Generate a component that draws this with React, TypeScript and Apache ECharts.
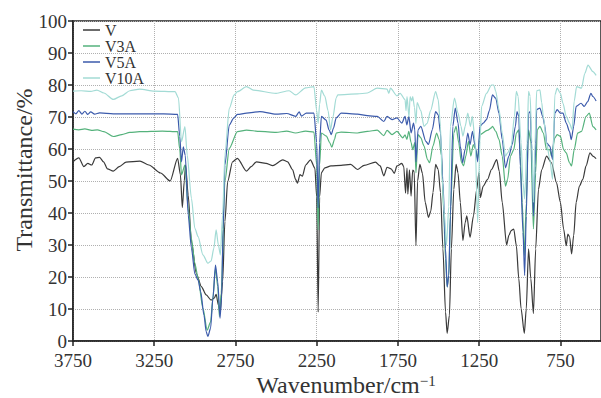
import React, { useEffect, useRef } from "react";
import * as echarts from "echarts";

const seriesNames = ["V", "V3A", "V5A", "V10A"];
const seriesColors = ["#3a3a3a", "#55b27c", "#3b5aab", "#a3dbd5"];
const xTickLabels = [3750, 3250, 2750, 2250, 1750, 1250, 750];

// [wavenumber (cm^-1), transmittance (%)]
const dataV: [number, number][] = [
  [3750, 56.0], [3714, 57.2], [3683, 54.5], [3659, 55.5], [3635, 55.0], [3611, 57.2], [3586, 57.4],
  [3562, 56.0], [3538, 53.8], [3502, 53.1], [3465, 54.5], [3423, 55.9], [3338, 56.2], [3283, 55.0],
  [3211, 52.5], [3152, 50.0], [3106, 57.1], [3089, 52], [3077, 41.7], [3065, 50], [3057, 55.0],
  [3041, 45.6], [3021, 31], [2991, 21.1], [2960, 17], [2930, 14.4], [2900, 12.8], [2879, 13.5],
  [2869, 14.6], [2855, 11.2], [2844, 8.8], [2829, 18.5], [2815, 37.3], [2798, 49.8], [2768, 56],
  [2738, 57.1], [2682, 53.1], [2653, 54.5], [2621, 56], [2562, 55.5], [2520, 54.8], [2459, 56.6],
  [2429, 56], [2398, 53.5], [2380, 50.5], [2368, 49.3], [2353, 52], [2338, 51.5], [2318, 55],
  [2288, 56.6], [2261, 54], [2250, 45], [2241, 9.0], [2232, 45], [2221, 52.6], [2200, 54.1],
  [2162, 54.7], [2100, 54.9], [2041, 55.2], [1999, 53.6], [1958, 54.9], [1888, 55.9], [1859, 54.7],
  [1837, 51.6], [1817, 54.3], [1792, 53.8], [1772, 52.4], [1756, 54.7], [1726, 55.5], [1714, 54.5],
  [1703, 46.2], [1694, 54], [1689, 45.9], [1679, 53.5], [1669, 45.3], [1659, 53.4], [1650, 53],
  [1639, 29.8], [1629, 50], [1615, 55.2], [1599, 52.4], [1582, 43.3], [1562, 38.6], [1548, 40.5],
  [1534, 46.4], [1518, 55.2], [1502, 53.6], [1488, 46.4], [1473, 28.8], [1457, 9.1], [1447, 2.4],
  [1433, 8.1], [1421, 28.8], [1406, 47.4], [1392, 55.2], [1380, 52.5], [1366, 43.3], [1350, 31.4],
  [1336, 37], [1326, 39.1], [1306, 32.4], [1285, 39.1], [1265, 47.4], [1251, 52.6], [1243, 44.8],
  [1225, 48.4], [1198, 50.5], [1174, 53.6], [1142, 56.7], [1126, 53], [1108, 43.3], [1081, 30],
  [1067, 33], [1053, 34.5], [1037, 35], [1021, 29.8], [1006, 19.5], [992, 10.1], [972, 2.4],
  [960, 10], [946, 28.8], [932, 19.5], [916, 8.6], [902, 28.8], [885, 47.4], [865, 53.5],
  [835, 57.8], [805, 55.7], [774, 49.5], [750, 43.3], [730, 35], [714, 29.8], [704, 33.4],
  [693, 32.5], [681, 27.2], [668, 33], [653, 43.3], [633, 48.4], [612, 50.5], [592, 54.7],
  [568, 58.8], [550, 57.8], [530, 57],
];

const dataV3A: [number, number][] = [
  [3750, 66.2], [3714, 66.0], [3677, 66.3], [3635, 65.8], [3600, 66], [3560, 65.4], [3502, 63.9],
  [3450, 64.5], [3400, 65.2], [3340, 65.4], [3200, 65.6], [3106, 65.4], [3093, 60], [3082, 51.9],
  [3061, 55], [3041, 41.4], [3021, 32], [3000, 24.3], [2980, 19.6], [2950, 10.2], [2924, 3.4],
  [2903, 6], [2889, 13.3], [2873, 22.7], [2859, 17], [2849, 7.6], [2838, 15], [2815, 49.8],
  [2788, 60.2], [2738, 65.4], [2682, 65.9], [2600, 65.5], [2500, 65.2], [2435, 65.6], [2380, 65.0],
  [2318, 65.6], [2267, 65.3], [2250, 55], [2241, 34.7], [2232, 55], [2221, 65], [2190, 64],
  [2170, 62], [2157, 60.6], [2140, 63], [2130, 65], [2100, 65.3], [1999, 65], [1938, 65.5],
  [1877, 65.9], [1837, 64.2], [1817, 65.8], [1786, 64.5], [1756, 65.5], [1720, 63.5], [1706, 64.4],
  [1695, 63], [1683, 65.5], [1669, 62], [1659, 59.8], [1646, 62], [1639, 52.6], [1626, 64.5],
  [1609, 63.5], [1590, 61], [1568, 56.7], [1555, 55.7], [1534, 61], [1512, 65], [1497, 63],
  [1482, 58], [1469, 41.2], [1457, 25.7], [1447, 16.9], [1437, 20.5], [1425, 42], [1406, 65],
  [1392, 67.1], [1376, 62], [1360, 56], [1346, 54.7], [1332, 57.8], [1316, 62.4], [1301, 57.8],
  [1286, 61.4], [1271, 59.8], [1259, 57], [1245, 64.5], [1200, 65.8], [1174, 66.6], [1168, 67.1],
  [1148, 65.5], [1128, 63], [1108, 57.8], [1088, 48.4], [1075, 50.5], [1057, 57.8], [1037, 59.8],
  [1021, 65], [1006, 66], [997, 57.8], [985, 43.3], [972, 26.7], [960, 43], [946, 66], [932, 62.4],
  [916, 35], [902, 52.6], [892, 66], [876, 67.1], [855, 65], [835, 59.8], [815, 59.8], [805, 57.8],
  [784, 63.5], [770, 64.5], [750, 64], [730, 59.8], [714, 58.8], [694, 55.7], [681, 54.7],
  [665, 59.8], [644, 65], [620, 65.5], [592, 70.2], [572, 71.2], [550, 67], [530, 66],
];

const dataV5A: [number, number][] = [
  [3750, 71.7], [3732, 71.0], [3714, 72.0], [3695, 70.9], [3677, 71.8], [3659, 70.8], [3641, 71.6],
  [3617, 70.9], [3586, 71.3], [3502, 71.0], [3344, 71.0], [3192, 71.0], [3106, 70.8], [3093, 64],
  [3082, 56.0], [3071, 60.7], [3059, 58], [3041, 39.4], [3021, 29], [3000, 21], [2980, 19],
  [2964, 15.4], [2944, 8.1], [2930, 2.9], [2920, 1.4], [2903, 4], [2889, 13.3], [2873, 23.7],
  [2859, 18.5], [2845, 7.1], [2835, 14], [2826, 35], [2815, 55], [2788, 67.5], [2762, 69.6],
  [2738, 70.8], [2682, 71.2], [2600, 71.7], [2500, 70.9], [2435, 71.1], [2379, 70.2], [2358, 71.6],
  [2344, 70.3], [2314, 71.2], [2267, 71.2], [2250, 62], [2241, 41.6], [2232, 62], [2221, 70.2],
  [2192, 69], [2174, 66], [2160, 64.5], [2147, 66.5], [2130, 69.7], [2100, 71.2], [1999, 70.9],
  [1938, 70.4], [1877, 70.2], [1837, 68.6], [1817, 70.2], [1786, 69.2], [1756, 69.7], [1726, 68.1],
  [1706, 70.2], [1695, 67.5], [1683, 70.2], [1669, 65], [1654, 68.1], [1646, 66], [1639, 56],
  [1626, 66], [1609, 67.1], [1578, 62.4], [1562, 61.4], [1538, 66.1], [1518, 71.7], [1502, 70.7],
  [1488, 65], [1473, 49.5], [1457, 28.8], [1447, 16.9], [1437, 20.5], [1427, 39.1], [1412, 67.1],
  [1397, 72.8], [1380, 68.1], [1366, 60.9], [1352, 55.7], [1336, 60], [1320, 65], [1306, 61.4],
  [1291, 65.5], [1275, 61], [1259, 56], [1245, 67.1], [1225, 68.1], [1205, 69.2], [1187, 72],
  [1168, 76.9], [1148, 75.9], [1128, 71.2], [1108, 62.9], [1088, 54.1], [1067, 57.8], [1047, 61.4],
  [1027, 67.1], [1017, 71.7], [1006, 70.2], [997, 54.7], [980, 34], [970, 20.5], [960, 39],
  [946, 71.2], [936, 71.7], [926, 60], [916, 39.1], [906, 54.7], [896, 72.3], [876, 72.8],
  [859, 70.2], [845, 67.1], [835, 61.9], [815, 60.9], [798, 56.7], [784, 71.2], [770, 72.3],
  [750, 71.2], [734, 71.2], [714, 68.1], [694, 65.5], [683, 62.9], [668, 67.1], [653, 73.3],
  [623, 74.3], [603, 73.3], [582, 74.8], [562, 77.4], [550, 76.4], [530, 75],
];

const dataV10A: [number, number][] = [
  [3750, 78.1], [3700, 78.2], [3640, 78.0], [3603, 78.4], [3560, 77.5], [3502, 75.5], [3450, 76.6],
  [3400, 78.2], [3340, 78.7], [3250, 78.1], [3122, 77.9], [3101, 76], [3082, 62.3], [3061, 67],
  [3047, 58.1], [3021, 44.6], [3000, 35.2], [2980, 32.6], [2950, 26.9], [2920, 24.3], [2900, 25],
  [2883, 29], [2869, 34.7], [2855, 30], [2843, 26.9], [2829, 39.4], [2815, 58.1], [2788, 72.7],
  [2758, 76.9], [2738, 77.9], [2682, 79.5], [2640, 78.4], [2500, 77.4], [2420, 78.2], [2379, 76.9],
  [2318, 79.1], [2267, 79.5], [2250, 72], [2241, 68], [2232, 74], [2221, 78.4], [2200, 76.5],
  [2180, 72], [2165, 66], [2150, 70], [2130, 76], [2120, 76.9], [1999, 77.2], [1938, 77.5],
  [1877, 79], [1817, 78.7], [1806, 77.4], [1796, 79], [1756, 76.6], [1736, 77.4], [1706, 75.4],
  [1700, 72], [1694, 76.4], [1682, 70], [1675, 76.4], [1665, 75], [1659, 76.4], [1648, 73],
  [1639, 68], [1632, 74.5], [1609, 72], [1590, 67.1], [1570, 68], [1549, 72], [1518, 77.9],
  [1502, 75.4], [1488, 67.1], [1478, 51], [1465, 40.2], [1451, 30], [1437, 42], [1427, 67.1],
  [1402, 75.9], [1380, 71.2], [1362, 67.1], [1350, 64], [1336, 67.1], [1320, 71.2], [1304, 67.1],
  [1292, 70.2], [1275, 62.4], [1259, 37], [1245, 62.4], [1235, 73.3], [1205, 77.4], [1174, 80],
  [1160, 80], [1148, 78], [1128, 72.4], [1108, 65], [1088, 57.8], [1075, 58.8], [1053, 60.9],
  [1033, 70.2], [1021, 78], [1010, 76.4], [992, 62], [980, 49.5], [970, 44.4], [955, 62], [946, 78],
  [936, 76.4], [926, 62], [916, 43.3], [906, 62], [896, 78.2], [876, 78.5], [865, 74.5],
  [855, 70.2], [835, 61.9], [815, 56.7], [798, 50.5], [784, 76.9], [770, 79], [750, 77.4],
  [734, 74.3], [714, 70.2], [694, 68.1], [678, 66], [665, 75], [650, 79.5], [620, 79], [600, 83.6],
  [580, 86.2], [550, 84.2], [530, 83],
];

const allData = [dataV, dataV3A, dataV5A, dataV10A];

const FONT = "'Liberation Serif', 'DejaVu Serif', serif";

export default function App() {
  const ref = useRef<HTMLDivElement>(null);

  useEffect(() => {
    if (!ref.current) return;
    const chart = echarts.init(ref.current, undefined, { renderer: "svg" });
    chart.setOption({
      animation: false,
      backgroundColor: "#ffffff",
      textStyle: { fontFamily: FONT },
      grid: {
        show: true,
        left: 73,
        top: 21,
        right: -8,
        bottom: 57,
        borderColor: "#222",
        borderWidth: 1.5,
        backgroundColor: "transparent",
      },
      legend: {
        data: seriesNames,
        orient: "vertical",
        left: 83,
        top: 22,
        icon: "rect",
        itemWidth: 17,
        itemHeight: 1.5,
        itemGap: 0,
        padding: 0,
        textStyle: {
          fontFamily: FONT,
          fontSize: 16,
          color: "#333",
          lineHeight: 16,
        },
      },
      xAxis: {
        type: "value",
        inverse: true,
        min: 500,
        max: 3750,
        interval: 250,
        axisLine: { show: true, onZero: false, lineStyle: { color: "#222", width: 1.5 } },
        axisTick: {
          show: true,
          length: 5,
          customValues: xTickLabels,
          lineStyle: { color: "#222", width: 1.5 },
        },
        axisLabel: {
          customValues: xTickLabels,
          formatter: (v: number) => String(v),
          fontFamily: FONT,
          fontSize: 19,
          lineHeight: 16,
          color: "#333",
          margin: 11,
        },
        splitLine: { show: true, lineStyle: { color: "#b0b0b0", type: "dotted", width: 1 } },
      },
      yAxis: {
        type: "value",
        min: 0,
        max: 100,
        interval: 10,
        axisLine: { show: true, lineStyle: { color: "#222", width: 1.5 } },
        axisTick: { show: true, length: 5, lineStyle: { color: "#222", width: 1.5 } },
        axisLabel: { fontFamily: FONT, fontSize: 19, lineHeight: 16, color: "#333", margin: 6 },
        splitLine: { show: true, lineStyle: { color: "#b0b0b0", type: "dotted", width: 1 } },
      },
      graphic: [
        {
          type: "text",
          x: 24,
          y: 170,
          rotation: Math.PI / 2,
          style: {
            text: "Transmittance/%",
            fontFamily: FONT,
            fontSize: 24,
            fill: "#333",
            textAlign: "center",
            textVerticalAlign: "middle",
          },
        },
        {
          type: "text",
          x: 346,
          y: 385,
          style: {
            text: "{a|Wavenumber/cm}{b|−1}",
            textAlign: "center",
            textVerticalAlign: "middle",
            rich: {
              a: { fontFamily: FONT, fontSize: 24, fill: "#333", lineHeight: 24 },
              b: { fontFamily: FONT, fontSize: 15, fill: "#333", lineHeight: 15, verticalAlign: "top" },
            },
          },
        },
      ],
      series: seriesNames.map((name, i) => ({
        name,
        type: "line",
        data: allData[i],
        showSymbol: false,
        smooth: 0.25,
        smoothMonotone: "x",
        clip: true,
        color: seriesColors[i],
        lineStyle: { color: seriesColors[i], width: 1.2 },
      })),
    });
    return () => chart.dispose();
  }, []);

  return (
    <div
      ref={ref}
      style={{ position: "absolute", left: 0, top: 0, width: 601, height: 398 }}
    />
  );
}
